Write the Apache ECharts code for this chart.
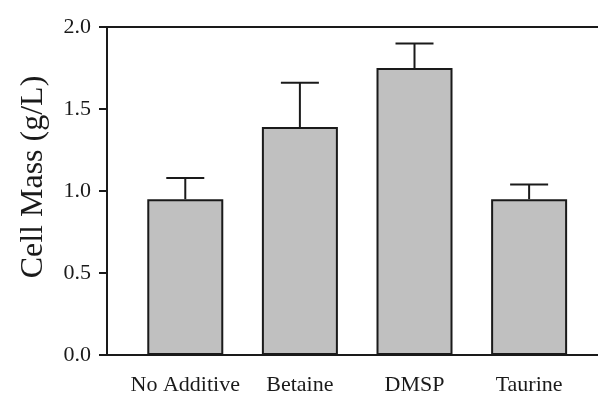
<!DOCTYPE html>
<html>
<head>
<meta charset="utf-8">
<script src="https://cdn.jsdelivr.net/npm/echarts@6/dist/echarts.min.js"></script>
<style>
  html, body { margin: 0; padding: 0; background: #fff; }
  #chart { width: 598px; height: 398px; }
</style>
</head>
<body>
<div id="chart"></div>
<script>
// Cell mass by osmolyte additive (mean with upper error bar)
const categories = ['No Additive', 'Betaine', 'DMSP', 'Taurine'];
const cellMass = [0.95, 1.39, 1.75, 0.95];
const errorTop = [1.08, 1.66, 1.90, 1.04];
const yTicks = [0.0, 0.5, 1.0, 1.5, 2.0];

const ink = '#1a1a1a';
const font = 'Liberation Serif';

const positions = categories.map((_, i) => i);
const barData = cellMass.map((v, i) => [positions[i], v]);
const errData = errorTop.map((v, i) => [positions[i], cellMass[i], v]);

const chart = echarts.init(document.getElementById('chart'));
chart.setOption({
  animation: false,
  backgroundColor: '#fff',
  grid: { left: 107, right: 0, top: 27, bottom: 43 },
  xAxis: [
    {
      type: 'value',
      min: -0.683,
      max: 3.601,
      position: 'bottom',
      splitLine: { show: false },
      axisTick: { show: false },
      axisLine: { show: true, onZero: false, lineStyle: { color: ink, width: 2 } },
      axisLabel: {
        customValues: positions,
        formatter: v => categories[Math.round(v)],
        color: ink,
        fontFamily: font,
        fontSize: 22,
        margin: 19
      }
    },
    {
      type: 'value',
      min: -0.683,
      max: 3.601,
      position: 'top',
      splitLine: { show: false },
      axisTick: { show: false },
      axisLabel: { show: false },
      axisLine: { show: true, onZero: false, lineStyle: { color: ink, width: 2 } }
    }
  ],
  yAxis: {
    type: 'value',
    min: yTicks[0],
    max: yTicks[yTicks.length - 1],
    interval: 0.5,
    position: 'left',
    name: 'Cell Mass (g/L)',
    nameLocation: 'middle',
    nameGap: 57,
    nameTextStyle: {
      color: ink,
      fontFamily: font,
      fontSize: 32,
      padding: [0, 0, 0, 28]
    },
    splitLine: { show: false },
    axisLine: { show: true, onZero: false, lineStyle: { color: ink, width: 2 } },
    axisTick: { show: true, length: 8, inside: false, lineStyle: { color: ink, width: 2 } },
    axisLabel: {
      color: ink,
      fontFamily: font,
      fontSize: 22,
      margin: 16,
      formatter: v => v.toFixed(1)
    }
  },
  series: [
    {
      type: 'bar',
      data: barData,
      barWidth: 76,
      itemStyle: { color: '#c0c0c0', borderColor: ink, borderWidth: 2 }
    },
    {
      type: 'custom',
      data: errData,
      z: 3,
      renderItem: (params, api) => {
        const base = api.coord([api.value(0), api.value(1)]);
        const top = api.coord([api.value(0), api.value(2)]);
        const half = 19;
        const style = { stroke: ink, lineWidth: 2 };
        return {
          type: 'group',
          children: [
            { type: 'line', shape: { x1: base[0], y1: base[1], x2: top[0], y2: top[1] }, style },
            { type: 'line', shape: { x1: top[0] - half, y1: top[1], x2: top[0] + half, y2: top[1] }, style }
          ]
        };
      }
    }
  ]
});
</script>
</body>
</html>
